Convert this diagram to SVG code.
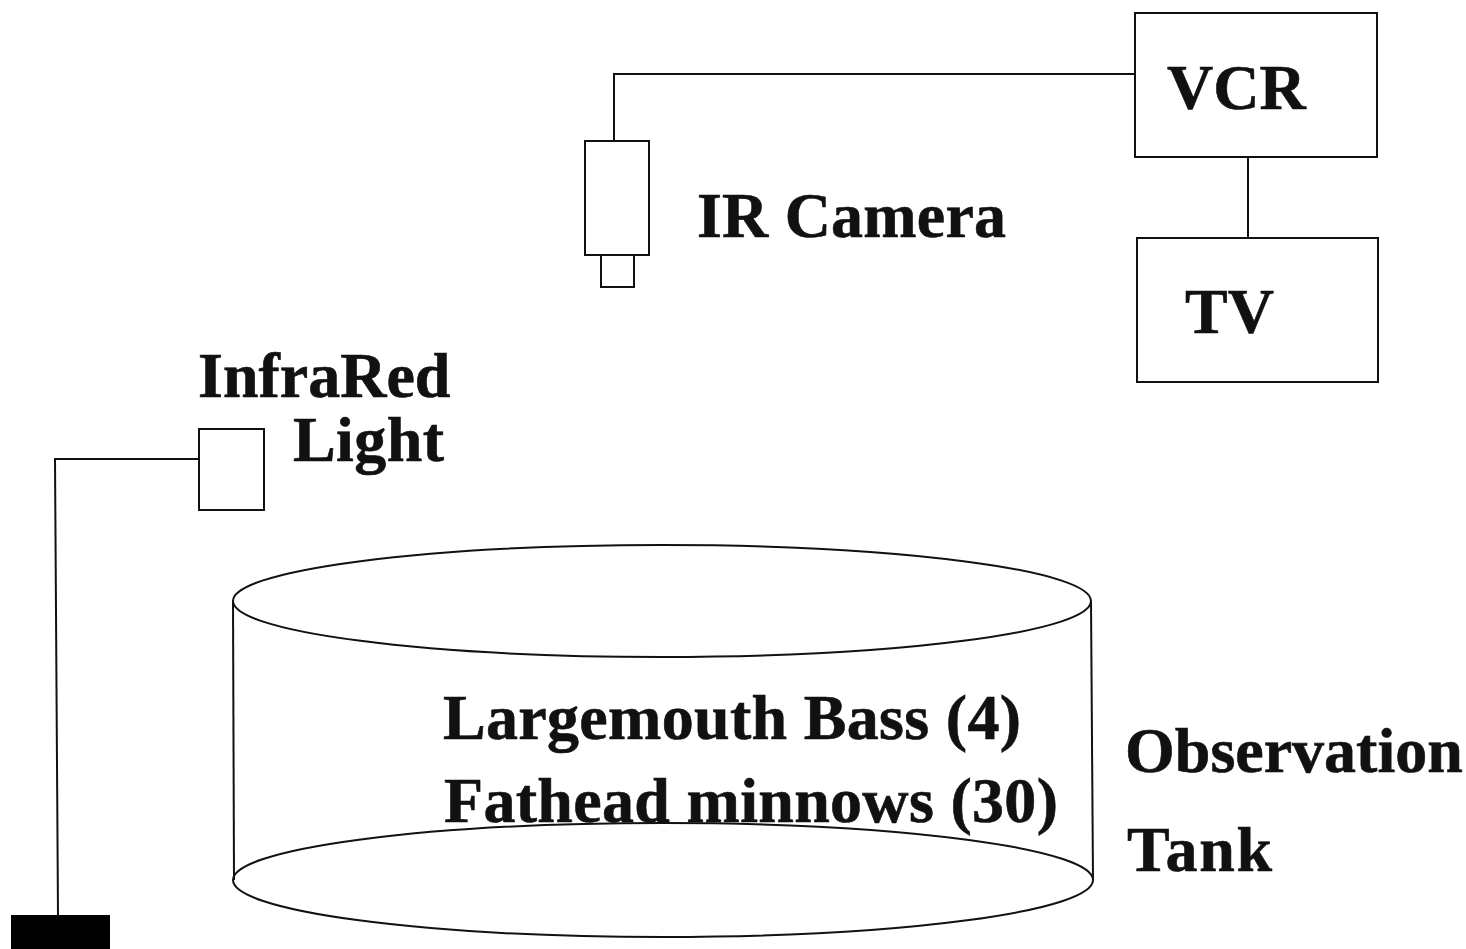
<svg xmlns="http://www.w3.org/2000/svg" width="1466" height="949" viewBox="0 0 1466 949">
<style>
.s{fill:none;stroke:#111;stroke-width:2}
.t{font-family:"Liberation Serif","Times New Roman",serif;font-weight:bold;fill:#111;font-size:64px;stroke:#111;stroke-width:.6}
</style>
<rect width="1466" height="949" fill="#fff"/>
<g id="connectors">
<path class="s" d="M614 141V74H1135"/>
<path class="s" d="M1248 157V238"/>
<path class="s" d="M199 459H55L58 915"/>
</g>
<g id="vcr"><rect class="s" x="1135" y="13" width="242" height="144"/><text class="t" x="1167" y="109">VCR</text></g>
<g id="tv"><rect class="s" x="1137" y="238" width="241" height="144"/><text class="t" x="1185" y="333">TV</text></g>
<g id="camera"><rect class="s" x="585" y="141" width="64" height="114"/><rect class="s" x="601" y="255" width="33" height="32"/><text class="t" x="697" y="237" textLength="309">IR Camera</text></g>
<g id="light"><rect class="s" x="199" y="429" width="65" height="81"/><text class="t" x="198" y="397">InfraRed</text><text class="t" x="293" y="461" textLength="151">Light</text></g>
<g id="base"><rect x="11" y="915" width="99" height="34" fill="#000"/></g>
<g id="tank">
<ellipse class="s" cx="662" cy="601" rx="429" ry="56"/>
<path class="s" d="M233 601L234 880"/>
<path class="s" d="M1091 601L1093 880"/>
<ellipse class="s" cx="663" cy="880" rx="430" ry="57"/>
<text class="t" x="443" y="739" textLength="578">Largemouth Bass (4)</text>
<text class="t" x="444" y="822" textLength="614">Fathead minnows (30)</text>
<text class="t" x="1125" y="772">Observation</text>
<text class="t" x="1127" y="871" textLength="145">Tank</text>
</g>
</svg>
